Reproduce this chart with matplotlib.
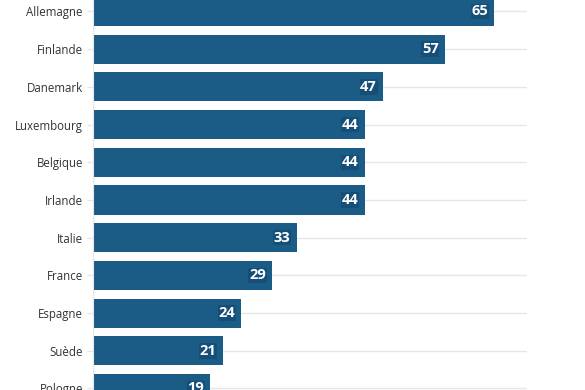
import matplotlib
matplotlib.use("Agg")
from matplotlib import pyplot as plt

countries = ["Allemagne", "Finlande", "Danemark", "Luxembourg", "Belgique",
             "Irlande", "Italie", "France", "Espagne", "Suède", "Pologne"]
values = [65, 57, 47, 44, 44, 44, 33, 29, 24, 21, 19]

plt.rcParams["font.family"] = ["Open Sans", "DejaVu Sans"]

fig = plt.figure(figsize=(5.85, 3.9), dpi=100)
ax = fig.add_axes([93 / 585, 0, (527 - 93) / 585, 1])

pos = list(range(len(countries)))
ax.barh(pos, values, height=0.77, color="#1b5c87", zorder=2)

# value labels inside the bar ends
for y, v in zip(pos, values):
    ax.text(v - 1.0, y, str(v), ha="right", va="center", color="white",
            fontsize=10.5, fontweight="bold", zorder=3,
            bbox=dict(boxstyle="square,pad=0.05", fc="#154f78", ec="none"))

ax.set_xlim(0, 70.3)
ax.set_ylim(10.04, -0.305)
ax.set_yticks(pos)
ax.set_yticklabels(countries, fontsize=8.3, color="#333333")
ax.set_xticks([])
ax.tick_params(axis="y", length=4.3, width=1, color="#e6e6e6", pad=2.9)
ax.grid(axis="y", color="#e6e6e6", linewidth=1, zorder=0)
for side in ["top", "right", "bottom"]:
    ax.spines[side].set_visible(False)
ax.spines["left"].set_color("#e6e6e6")

fig.savefig("out.png", dpi=100)
